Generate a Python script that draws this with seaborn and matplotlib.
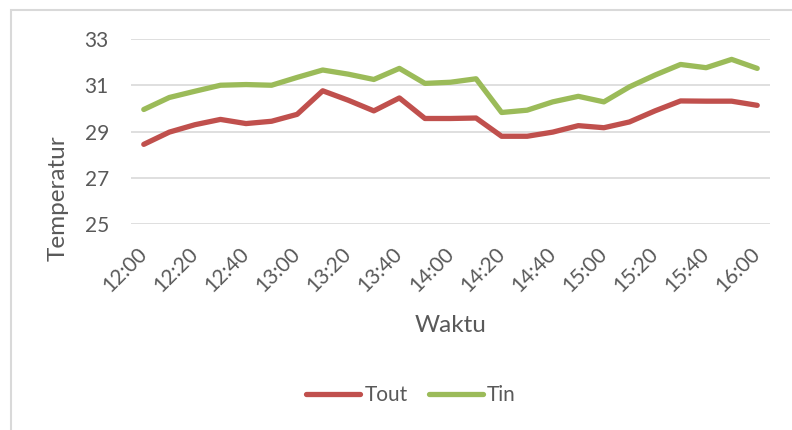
import matplotlib
matplotlib.use("Agg")
import matplotlib.pyplot as plt
import matplotlib.patches as mpatches
import seaborn as sns
import pandas as pd

times = ["12:00", "12:10", "12:20", "12:30", "12:40", "12:50", "13:00", "13:10",
         "13:20", "13:30", "13:40", "13:50", "14:00", "14:10", "14:20", "14:30",
         "14:40", "14:50", "15:00", "15:10", "15:20", "15:30", "15:40", "15:50",
         "16:00"]
tout = [28.45, 28.98, 29.30, 29.53, 29.35, 29.45, 29.75, 30.77, 30.36, 29.90,
        30.46, 29.57, 29.57, 29.59, 28.80, 28.80, 28.98, 29.26, 29.17, 29.42,
        29.90, 30.33, 30.32, 30.32, 30.14]
tin = [29.96, 30.48, 30.75, 31.01, 31.04, 31.01, 31.35, 31.67, 31.49, 31.26,
       31.74, 31.09, 31.14, 31.29, 29.83, 29.93, 30.29, 30.53, 30.29, 30.94,
       31.45, 31.91, 31.77, 32.13, 31.74]
series_names = ["Tout", "Tin"]
y_ticks = [25, 27, 29, 31, 33]

colors = {"Tout": "#C0504D", "Tin": "#9BBB59"}

df = pd.DataFrame({
    "idx": list(range(len(times))) * 2,
    "Waktu": times * 2,
    "Temperatur": tout + tin,
    "Series": ["Tout"] * len(times) + ["Tin"] * len(times),
})

sns.set_style("white")
plt.rcParams["font.family"] = ["Lato", "DejaVu Sans"]
text_color = "#595959"

W, H = 792, 430
fig = plt.figure(figsize=(W / 100, H / 100), dpi=100)
ax = fig.add_axes([131 / W, 1 - 224 / H, 639 / W, (224 - 39.3) / H])

sns.lineplot(data=df, x="idx", y="Temperatur", hue="Series", hue_order=series_names,
             palette=colors, linewidth=3.8, sort=False, ax=ax, legend=False,
             solid_capstyle="round")

ax.set_xlim(-0.5, len(times) - 0.5)
ax.set_ylim(25, 33)
ax.set_yticks(y_ticks)
ax.set_yticklabels([str(v) for v in y_ticks])
tick_pos = list(range(0, len(times), 2))
ax.set_xticks(tick_pos)
ax.set_xticklabels([times[i] for i in tick_pos], rotation=45, ha="right",
                   va="center", rotation_mode="anchor")
ax.grid(axis="y", color="#D9D9D9", linewidth=1.2)
ax.grid(axis="x", visible=False)
ax.set_axisbelow(True)
for s in ax.spines.values():
    s.set_visible(False)
ax.tick_params(axis="y", length=0, pad=16, labelsize=15, labelcolor=text_color)
ax.tick_params(axis="x", length=0, pad=19, labelsize=15, labelcolor=text_color)
ax.set_xlabel("")
ax.set_ylabel("")

fig.text(58 / W, 1 - 198 / H, "Temperatur", rotation=90, ha="center", va="center",
         fontsize=17.5, color=text_color)
fig.text(451 / W, 1 - 325 / H, "Waktu", ha="center", va="center",
         fontsize=17.5, color=text_color)

handles = [plt.Line2D([], [], color=colors[n], linewidth=3.8, solid_capstyle="round")
           for n in series_names]
fig.legend(handles, series_names, loc="center", bbox_to_anchor=(411 / W, 1 - 395 / H),
           ncol=2, frameon=False, fontsize=15, handlelength=2.6, handletextpad=0.2,
           columnspacing=1.0, labelcolor=text_color)

border = mpatches.Rectangle((10.5 / W, -0.1), 1.2, 1.1 - 10 / H, transform=fig.transFigure,
                            fill=False, edgecolor="#D9D9D9", linewidth=1.5)
fig.patches.append(border)

fig.savefig("out.png", dpi=100)
